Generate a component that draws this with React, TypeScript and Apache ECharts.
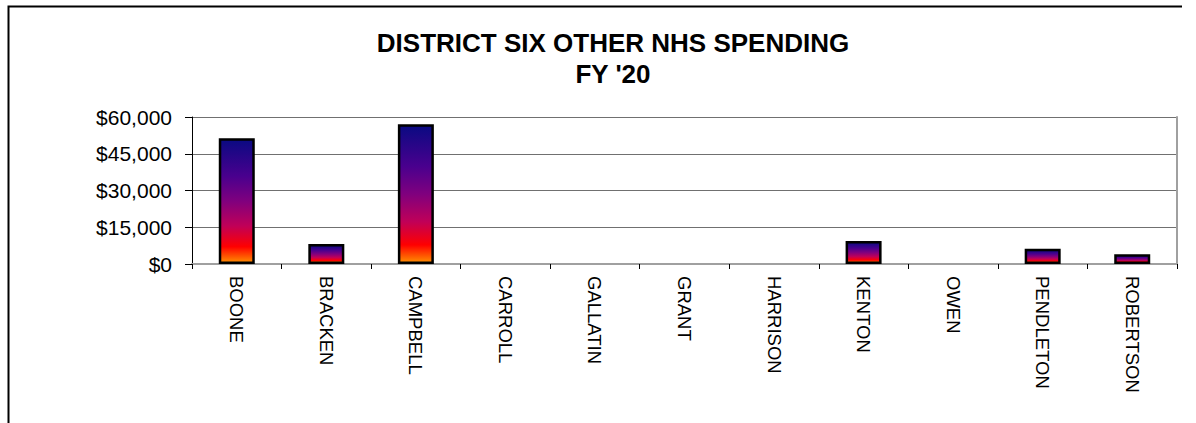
import React, { useEffect, useRef } from "react";
import * as echarts from "echarts";

const categories = ["BOONE", "BRACKEN", "CAMPBELL", "CARROLL", "GALLATIN", "GRANT", "HARRISON", "KENTON", "OWEN", "PENDLETON", "ROBERTSON"];
const spending = [51300, 8200, 57000, 0, 0, 0, 0, 9400, 0, 6200, 4000];
const titleLines = ["DISTRICT SIX OTHER NHS SPENDING", "FY '20"];
const yMin = 0;
const yMax = 60000;
const yStep = 15000;

const FONT = "'Liberation Sans', Arial, sans-serif";

export default function App() {
  const ref = useRef<HTMLDivElement>(null);
  useEffect(() => {
    if (!ref.current) return;
    const chart = echarts.init(ref.current, null, { renderer: "svg" });
    const fire = new echarts.graphic.LinearGradient(0, 0, 0, 1, [
      { offset: 0, color: "#0a0a82" },
      { offset: 0.3, color: "#4a008e" },
      { offset: 0.5, color: "#80007e" },
      { offset: 0.7, color: "#c00058" },
      { offset: 0.87, color: "#ff0000" },
      { offset: 1, color: "#ff9000" },
    ]);
    chart.setOption({
      animation: false,
      backgroundColor: "#ffffff",
      title: {
        text: titleLines.join("\n"),
        left: 608,
        top: 22,
        textAlign: "center",
        textStyle: {
          fontFamily: FONT,
          fontWeight: "bold",
          fontSize: 26,
          lineHeight: 31,
          color: "#000",
        },
      },
      graphic: [
        {
          type: "polyline",
          shape: { points: [[8.5, 423], [8.5, 6.5], [1182, 6.5]] },
          style: { stroke: "#000", lineWidth: 2, fill: "none" },
          silent: true,
        },
      ],
      grid: { left: 192, right: 19, top: 117, bottom: 159, containLabel: false },
      xAxis: [
        {
          type: "category",
          data: categories,
          position: "bottom",
          axisLine: { show: true, lineStyle: { color: "#000", width: 1 } },
          axisTick: { show: true, length: 5, lineStyle: { color: "#000" } },
          axisLabel: {
            rotate: -90,
            interval: 0,
            margin: 12,
            fontFamily: FONT,
            fontSize: 18.5,
            color: "#000",
          },
          splitLine: { show: false },
        },
        {
          type: "category",
          data: categories,
          position: "top",
          axisLine: { show: true, lineStyle: { color: "#a0a0a0", width: 2 } },
          axisTick: { show: false },
          axisLabel: { show: false },
        },
      ],
      yAxis: [
        {
          type: "value",
          min: yMin,
          max: yMax,
          interval: yStep,
          axisLine: { show: true, lineStyle: { color: "#000", width: 1 } },
          axisTick: { show: true, length: 7, lineStyle: { color: "#000" } },
          axisLabel: {
            margin: 20,
            fontFamily: FONT,
            fontSize: 21,
            color: "#000",
            formatter: (v: number) => "$" + v.toLocaleString("en-US"),
          },
          splitLine: { show: true, lineStyle: { color: "#707070", width: 1 } },
        },
        {
          type: "value",
          position: "right",
          min: yMin,
          max: yMax,
          interval: yStep,
          axisLine: { show: true, lineStyle: { color: "#a0a0a0", width: 2 } },
          axisTick: { show: false },
          axisLabel: { show: false },
          splitLine: { show: false },
        },
      ],
      series: [
        {
          type: "bar",
          data: spending.map((v) =>
            v === 0 ? { value: v, itemStyle: { borderWidth: 0 } } : v
          ),
          barWidth: 36,
          xAxisIndex: 0,
          yAxisIndex: 0,
          itemStyle: { color: fire, borderColor: "#000", borderWidth: 2.5 },
        },
      ],
    });
    return () => chart.dispose();
  }, []);
  return (
    <div
      ref={ref}
      style={{ position: "absolute", left: 0, top: 0, width: 1196, height: 423 }}
    />
  );
}
